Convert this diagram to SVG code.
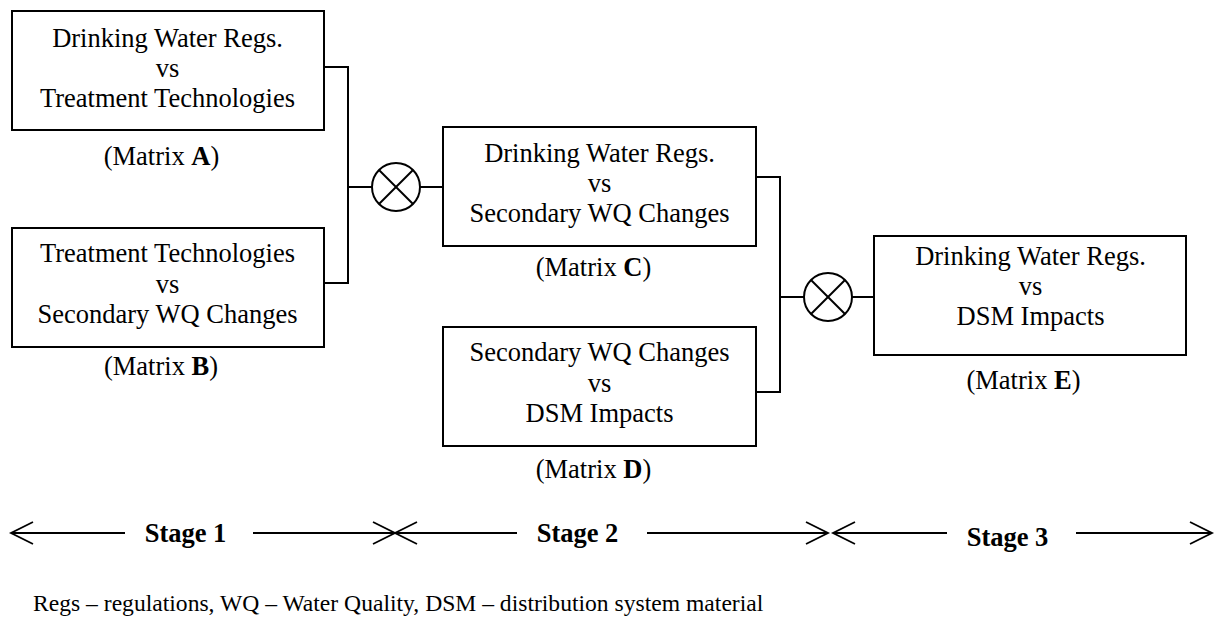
<svg xmlns="http://www.w3.org/2000/svg" width="1217" height="619" viewBox="0 0 1217 619">
<style>
  .box { fill: #ffffff; stroke: #000000; stroke-width: 2; }
  .t { font-family: "Liberation Serif", "Times New Roman", serif; font-size: 26.5px; fill: #000000; text-anchor: middle; }
  .b { font-weight: bold; }
  .foot { font-family: "Liberation Serif", "Times New Roman", serif; font-size: 23.6px; fill: #000000; }
  .ln { fill: none; stroke: #000000; stroke-width: 2; }
  .st { fill: none; stroke: #000000; stroke-width: 1.8; }
</style>
<rect width="1217" height="619" fill="#ffffff"/>

<g id="connectors">
  <polyline class="ln" points="324,67 348,67 348,283 324,283"/>
  <line class="ln" x1="348" y1="187" x2="372" y2="187"/>
  <line class="ln" x1="420" y1="187" x2="443" y2="187"/>
  <polyline class="ln" points="756,177 780,177 780,392 756,392"/>
  <line class="ln" x1="780" y1="297" x2="804" y2="297"/>
  <line class="ln" x1="852" y1="297" x2="874" y2="297"/>
</g>

<g id="combine1">
  <circle class="ln" cx="396" cy="187" r="24"/>
  <line class="ln" x1="379" y1="170" x2="413" y2="204"/>
  <line class="ln" x1="413" y1="170" x2="379" y2="204"/>
</g>
<g id="combine2">
  <circle class="ln" cx="828" cy="297" r="24"/>
  <line class="ln" x1="811" y1="280" x2="845" y2="314"/>
  <line class="ln" x1="845" y1="280" x2="811" y2="314"/>
</g>

<g id="matrixA">
  <rect class="box" x="12" y="11" width="312" height="119"/>
  <text class="t" x="167.5" y="46.5">Drinking Water Regs.</text>
  <text class="t" x="167.5" y="76.5">vs</text>
  <text class="t" x="167.5" y="106.5">Treatment Technologies</text>
  <text class="t" x="161.5" y="165">(Matrix <tspan class="b">A</tspan>)</text>
</g>

<g id="matrixB">
  <rect class="box" x="12" y="228" width="312" height="119"/>
  <text class="t" x="167.5" y="262">Treatment Technologies</text>
  <text class="t" x="167.5" y="292.5">vs</text>
  <text class="t" x="167.5" y="323">Secondary WQ Changes</text>
  <text class="t" x="161" y="375">(Matrix <tspan class="b">B</tspan>)</text>
</g>

<g id="matrixC">
  <rect class="box" x="443" y="127" width="313" height="119"/>
  <text class="t" x="599.5" y="162">Drinking Water Regs.</text>
  <text class="t" x="599.5" y="192">vs</text>
  <text class="t" x="599.5" y="222">Secondary WQ Changes</text>
  <text class="t" x="593.5" y="276">(Matrix <tspan class="b">C</tspan>)</text>
</g>

<g id="matrixD">
  <rect class="box" x="443" y="327" width="313" height="119"/>
  <text class="t" x="599.5" y="361">Secondary WQ Changes</text>
  <text class="t" x="599.5" y="391.5">vs</text>
  <text class="t" x="599.5" y="422">DSM Impacts</text>
  <text class="t" x="593.5" y="477.5">(Matrix <tspan class="b">D</tspan>)</text>
</g>

<g id="matrixE">
  <rect class="box" x="874" y="236" width="312" height="119"/>
  <text class="t" x="1030.5" y="265">Drinking Water Regs.</text>
  <text class="t" x="1030.5" y="295">vs</text>
  <text class="t" x="1030.5" y="325">DSM Impacts</text>
  <text class="t" x="1023.5" y="389">(Matrix <tspan class="b">E</tspan>)</text>
</g>

<g id="stages">
  <polyline class="st" points="33,522 11,533 33,544"/>
  <line class="st" x1="11" y1="533" x2="125" y2="533"/>
  <text class="t b" x="185.5" y="542">Stage 1</text>
  <line class="st" x1="253" y1="533" x2="395" y2="533"/>
  <polyline class="st" points="373,522 395,533 373,544"/>
  <polyline class="st" points="417,522 395,533 417,544"/>
  <line class="st" x1="395" y1="533" x2="517" y2="533"/>
  <text class="t b" x="577.5" y="542">Stage 2</text>
  <line class="st" x1="647" y1="533" x2="828" y2="533"/>
  <polyline class="st" points="806,522 828,533 806,544"/>
  <polyline class="st" points="855,522 833,533 855,544"/>
  <line class="st" x1="833" y1="533" x2="947" y2="533"/>
  <text class="t b" x="1007.5" y="546">Stage 3</text>
  <line class="st" x1="1076" y1="533" x2="1212" y2="533"/>
  <polyline class="st" points="1190,522 1212,533 1190,544"/>
</g>

<text class="foot" x="33" y="611">Regs – regulations, WQ – Water Quality, DSM – distribution system material</text>
</svg>
